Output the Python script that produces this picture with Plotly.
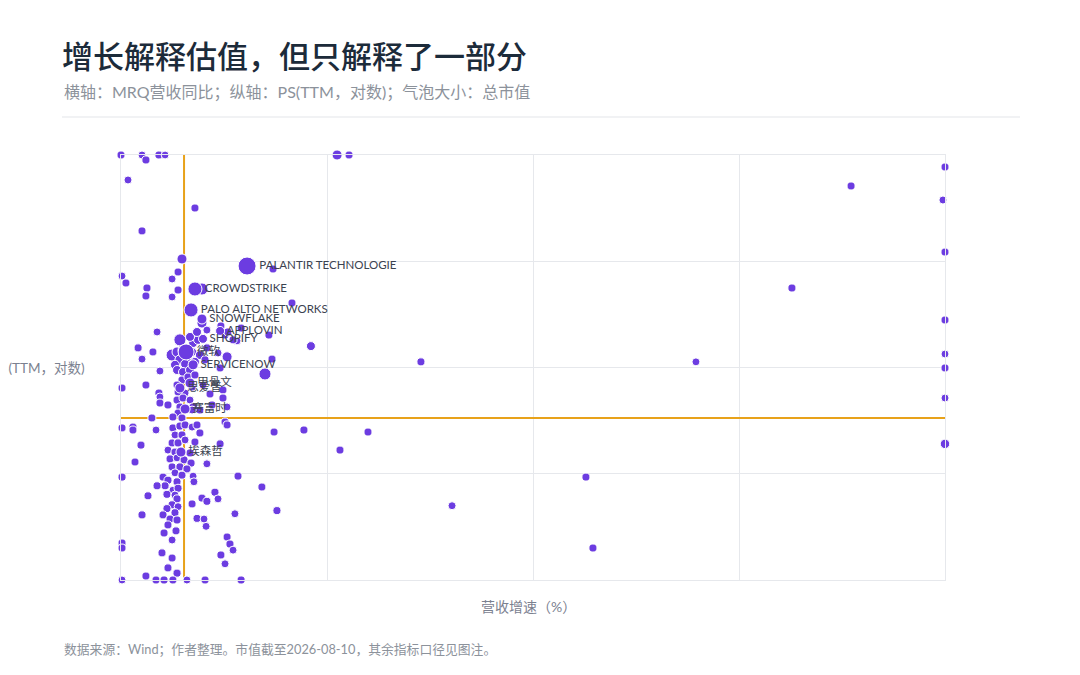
import plotly.graph_objects as go

# 带标注的公司：营收同比(%)、PS(TTM)、总市值（相对值）
label_names = ["PALANTIR TECHNOLOGIE", "CROWDSTRIKE", "PALO ALTO NETWORKS", "SNOWFLAKE",
               "APPLOVIN", "SHOPIFY", "微软", "SERVICENOW", "甲骨文", "思爱普", "赛富时", "埃森哲"]
label_growth = [41.2, 15.9, 14.0, 19.3, 28.1, 19.8, 11.6, 15.0, 13.5, 8.6, 11.1, 9.1]
label_ps = [90.2, 54.8, 34.8, 28.6, 22.1, 18.6, 14.0, 10.6, 7.14, 6.41, 4.07, 1.60]
label_mcap = [400, 245, 245, 125, 100, 100, 315, 125, 125, 125, 125, 125]

# 其余公司（超出坐标范围的已截在边界上）
other_growth = [
    -20.0, -9.8, -7.9, -1.6, 1.4, 84.9, 90.7, -16.6, 15.9, -9.8,
    9.6, 53.8, -19.5, -17.6, -7.4, -7.9, 4.8, 7.7, 7.7, 4.8,
    19.3, 63.0, 19.3, -2.5, 28.5, 38.3, 51.8, 72.2, 36.3, -11.7,
    -4.5, -9.8, 31.5, 53.3, 49.9, 125.6, 259.1, 334.4, 379.0, 380,
    380, 305.7, 380, 380, 380, 380, 380, 54.3, 68.8, 99.9,
    86.3, 140.7, 205.7, 209.1, 8.6, 4.8, 7.2, 10.1, 12.0, 8.6,
    6.2, 11.1, 14.5, 15.0, 17.4, 13.5, 16.9, 21.7, 18.3, 20.8,
    15.9, 7.2, 10.1, 13.5, 9.6, 12.5, 15.9, 7.2, 11.1, 14.5,
    7.7, 7.2, 10.1, 13.5, 8.6, 15.0, 7.7, 14.5, 18.3, 5.2,
    9.6, -1.1, -19.5, -7.9, -1.6, -1.1, -1.1, 2.8, -5.0, 21.7,
    30.5, 31.9, 34.4, 27.1, 28.1, 29.5, 29.5, 31.5, 30.5, 24.2,
    23.2, 19.8, -19.5, -14.2, -14.2, -3.0, 5.2, 8.6, 11.1, 14.5,
    16.9, 18.3, 31.5, 6.2, 9.6, 4.8, 7.7, 11.1, 15.9, -10.3,
    28.1, 2.8, 6.2, 13.5, 3.8, 7.2, 10.6, 14.0, -13.2, 21.7,
    4.8, 8.6, 12.0, 6.2, 9.6, 0.4, -19.5, 15.0, 36.8, 2.8,
    7.2, 15.4, 1.4, -2.5, 48.4, 5.2, 7.7, 25.6, 2.3, 6.2,
    -6.9, 7.2, 19.3, 27.1, 21.7, 14.5, 4.8, 7.7, 2.3, 55.7,
    6.2, 35.3, 0.4, -9.8, 16.9, 20.3, 3.8, 7.2, 2.8, 21.3,
    6.7, 0.9, 31.5, 4.8, -19.5, -19.5, 32.9, 34.4, -0.1, 28.5,
    4.8, 30.5, 2.8, 7.2, -7.9, -19.5, -3.0, 0.9, 5.2, 12.0,
    20.8, 38.3,
]
other_ps = [
    1000, 1000, 898, 1000, 1000, 1000, 1000, 582, 317, 193,
    105, 84.5, 72.6, 62.4, 56.0, 47.1, 68.1, 79.2, 53.6, 46.1,
    54.8, 40.5, 26.2, 21.6, 24.6, 23.5, 20.2, 15.9, 17.8, 15.3,
    14.0, 12.0, 12.6, 12.0, 8.69, 11.3, 11.3, 511, 377, 771,
    122, 56.0, 28.0, 13.4, 9.9, 5.16, 1.91, 2.47, 2.58, 2.47,
    1.67, 0.50, 0.93, 0.20, 18.2, 13.1, 14.0, 14.6, 12.6, 11.8,
    10.6, 10.8, 14.0, 17.0, 18.2, 19.4, 21.6, 15.3, 13.1, 11.8,
    11.3, 9.47, 9.07, 9.47, 7.62, 8.14, 8.50, 6.84, 5.75, 6.55,
    5.88, 4.94, 5.16, 4.94, 4.25, 4.25, 3.73, 3.98, 3.98, 3.42,
    3.35, 9.27, 6.41, 6.84, 5.75, 5.28, 4.63, 4.44, 3.35, 22.5,
    20.2, 21.6, 18.2, 13.7, 9.9, 6.14, 5.16, 4.25, 3.07, 4.44,
    5.63, 6.84, 2.70, 2.75, 2.58, 2.58, 2.70, 2.81, 2.88, 2.75,
    2.88, 2.42, 2.88, 2.32, 2.32, 1.95, 1.95, 2.08, 1.99, 1.86,
    1.91, 1.67, 1.60, 1.57, 1.38, 1.41, 1.35, 1.26, 1.29, 1.24,
    1.16, 1.16, 1.11, 1.02, 0.97, 0.93, 0.93, 0.95, 0.95, 0.87,
    0.84, 0.84, 0.77, 0.77, 0.75, 0.70, 0.73, 0.67, 0.64, 0.63,
    0.62, 0.58, 0.59, 0.58, 0.55, 0.52, 0.51, 0.49, 0.47, 0.45,
    0.43, 0.42, 0.41, 0.41, 0.38, 0.375, 0.375, 0.367, 0.33, 0.32,
    0.29, 0.277, 0.254, 0.238, 0.223, 0.200, 0.218, 0.191, 0.180, 0.172,
    0.161, 0.142, 0.130, 0.116, 0.109, 0.1, 0.1, 0.1, 0.1, 0.1,
    0.1, 0.1,
]
other_mcap = [
    80, 78, 82, 80, 76, 125, 80, 79, 81, 80,
    125, 80, 78, 80, 82, 80, 79, 80, 81, 78,
    180, 80, 125, 79, 80, 81, 80, 100, 78, 80,
    80, 79, 125, 80, 180, 80, 78, 80, 79, 80,
    80, 81, 80, 78, 80, 79, 110, 80, 82, 80,
    80, 79, 80, 81, 180, 180, 125, 125, 125, 125,
    100, 100, 100, 100, 100, 100, 100, 80, 100, 80,
    100, 100, 100, 100, 82, 80, 81, 80, 79, 80,
    80, 81, 80, 79, 80, 82, 80, 78, 80, 81,
    80, 79, 80, 80, 81, 78, 80, 82, 80, 79,
    80, 81, 80, 79, 80, 80, 82, 78, 80, 81,
    80, 79, 80, 81, 80, 78, 80, 82, 80, 79,
    80, 81, 80, 79, 80, 80, 82, 78, 80, 81,
    80, 79, 80, 81, 80, 78, 80, 82, 80, 79,
    80, 81, 80, 79, 80, 80, 82, 78, 80, 81,
    80, 79, 80, 81, 80, 78, 80, 82, 80, 79,
    80, 81, 80, 79, 80, 80, 82, 78, 80, 81,
    80, 79, 80, 81, 80, 78, 80, 82, 80, 79,
    80, 81, 80, 79, 80, 80, 82, 78, 80, 81,
    80, 79, 80, 81, 80, 78, 80, 82, 80, 79,
    80, 81,
]

# 参考线：样本中位数
median_growth = 10.6
median_ps = 3.35

x_range = [-20, 380]
ps_range = [0.1, 1000]

PURPLE = "#6c3ce1"
ORANGE = "#e8a21a"
GRID = "#e6e8ec"
FONT = "Lato, 'Noto Sans CJK SC', sans-serif"

max_cap = max(label_mcap + other_mcap)
sizeref = 2.0 * max_cap / (18 ** 2)

fig = go.Figure()

# 中位数参考线
fig.add_trace(go.Scatter(x=[median_growth, median_growth], y=ps_range, mode="lines",
                         line=dict(color=ORANGE, width=2), hoverinfo="skip"))
fig.add_trace(go.Scatter(x=x_range, y=[median_ps, median_ps], mode="lines",
                         line=dict(color=ORANGE, width=2), hoverinfo="skip"))

fig.add_trace(go.Scatter(
    x=other_growth, y=other_ps, mode="markers", cliponaxis=False,
    marker=dict(size=other_mcap, sizemode="area", sizeref=sizeref, sizemin=3,
                color=PURPLE, line=dict(color="white", width=1), opacity=1),
))
fig.add_trace(go.Scatter(
    x=label_growth, y=label_ps, mode="markers+text", cliponaxis=False,
    text=label_names, textposition="middle right",
    textfont=dict(size=11.5, color="#3b4250", family=FONT),
    marker=dict(size=label_mcap, sizemode="area", sizeref=sizeref, sizemin=3,
                color=PURPLE, line=dict(color="white", width=1), opacity=1),
))

# 页面本身有 8px 左上边距，这里的边距已扣掉
fig.update_layout(
    width=1080, height=675,
    margin=dict(l=113, r=143, t=147, b=103),
    paper_bgcolor="white", plot_bgcolor="white",
    showlegend=False,
    font=dict(family=FONT, color="#7b8190"),
    title=dict(text="增长解释估值，但只解释了一部分", xref="container", yref="container",
               x=54 / 1080, xanchor="left", y=1 - 49 / 675, yanchor="middle",
               font=dict(size=31, color="#1c2b3a", family="'Noto Sans CJK SC'", weight=500)),
    xaxis=dict(range=x_range, tick0=-20, dtick=100, showticklabels=False, ticks="",
               showgrid=True, gridcolor=GRID, gridwidth=1, zeroline=False,
               showline=True, mirror=True, linecolor=GRID, linewidth=1),
    yaxis=dict(type="log", range=[-1, 3], dtick=1, showticklabels=False, ticks="",
               showgrid=True, gridcolor=GRID, gridwidth=1, zeroline=False,
               showline=True, mirror=True, linecolor=GRID, linewidth=1),
    shapes=[dict(type="line", xref="paper", yref="paper", x0=-0.0716, x1=1.091,
                 y0=1.0894, y1=1.0894, line=dict(color="#e3e5e9", width=1))],
    annotations=[
        dict(text="横轴：MRQ营收同比；纵轴：PS(TTM，对数)；气泡大小：总市值",
             xref="paper", yref="paper", x=-0.0716, y=1.148, xanchor="left", yanchor="middle",
             showarrow=False, font=dict(size=16, color="#8c929b")),
        dict(text="PS(TTM，对数)", xref="paper", yref="paper", x=-0.0415, y=0.4988,
             xanchor="right", yanchor="middle", showarrow=False,
             font=dict(size=13.5, color="#7b8190")),
        dict(text="营收增速（%）", xref="paper", yref="paper", x=0.494, y=-0.0635,
             xanchor="center", yanchor="middle", showarrow=False,
             font=dict(size=14, color="#7b8190")),
        dict(text="数据来源：Wind；作者整理。市值截至2026-08-10，其余指标口径见图注。",
             xref="paper", yref="paper", x=-0.0716, y=-0.1647, xanchor="left", yanchor="middle",
             showarrow=False, font=dict(size=12.8, color="#8c929b")),
    ],
)

fig.write_html("out.html")
